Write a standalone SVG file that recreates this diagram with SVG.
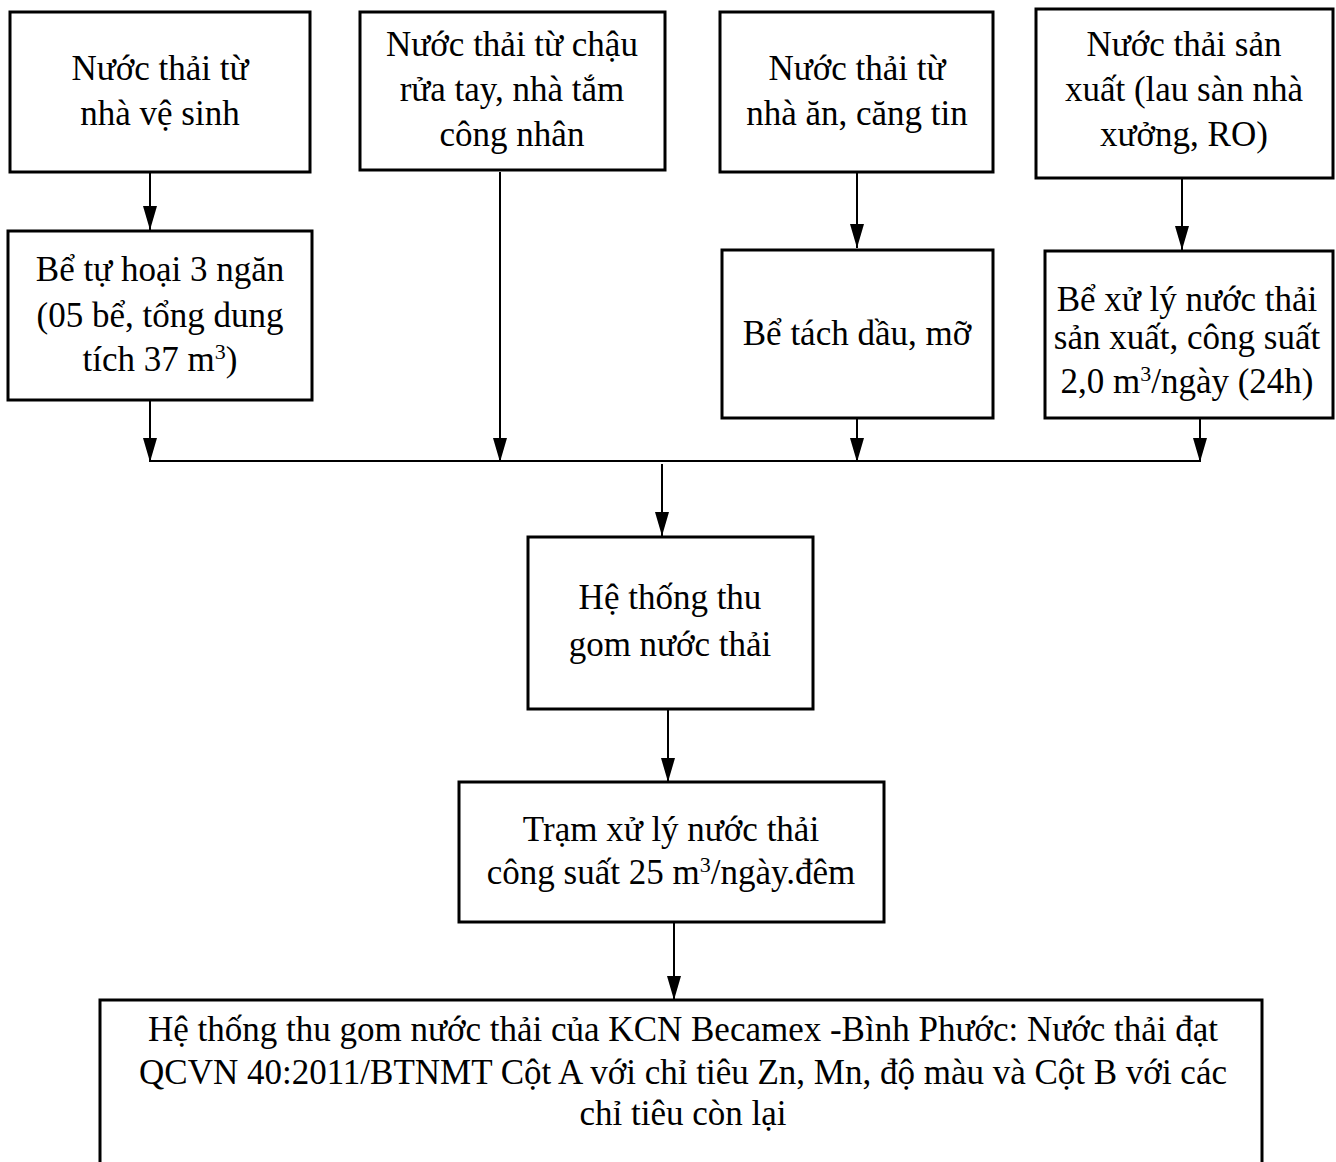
<svg xmlns="http://www.w3.org/2000/svg" width="1336" height="1162" viewBox="0 0 1336 1162">
<style>
.box{fill:#fff;stroke:#000;stroke-width:3}
.t{font-family:"Liberation Serif","Times New Roman",serif;font-size:35px;fill:#000;text-anchor:middle}
.c{stroke:#000;stroke-width:2;fill:none}
.sup{font-size:22px}
</style>
<defs>
<marker id="ah" viewBox="0 0 24 14" refX="24" refY="7" markerWidth="24" markerHeight="14" markerUnits="userSpaceOnUse" orient="auto">
<path d="M0,0 L24,7 L0,14 z" fill="#000"/>
</marker>
</defs>
<rect width="1336" height="1162" fill="#fff"/>
<g id="connectors">
<line class="c" x1="150" y1="172" x2="150" y2="230" marker-end="url(#ah)"/>
<line class="c" x1="500" y1="172" x2="500" y2="462" marker-end="url(#ah)"/>
<line class="c" x1="857" y1="172" x2="857" y2="248" marker-end="url(#ah)"/>
<line class="c" x1="1182" y1="178" x2="1182" y2="250" marker-end="url(#ah)"/>
<line class="c" x1="150" y1="400" x2="150" y2="462" marker-end="url(#ah)"/>
<line class="c" x1="857" y1="418" x2="857" y2="462" marker-end="url(#ah)"/>
<line class="c" x1="1200" y1="418" x2="1200" y2="462" marker-end="url(#ah)"/>
<line class="c" x1="150" y1="461" x2="1200" y2="461"/>
<line class="c" x1="662" y1="464" x2="662" y2="536" marker-end="url(#ah)"/>
<line class="c" x1="668" y1="709" x2="668" y2="782" marker-end="url(#ah)"/>
<line class="c" x1="674" y1="922" x2="674" y2="1000" marker-end="url(#ah)"/>
</g>
<g id="n1">
<rect class="box" x="10" y="12" width="300" height="160"/>
<text class="t" x="160" y="80">Nước thải từ</text>
<text class="t" x="160" y="125">nhà vệ sinh</text>
</g>
<g id="n2">
<rect class="box" x="360" y="12" width="305" height="158"/>
<text class="t" x="512" y="56">Nước thải từ chậu</text>
<text class="t" x="512" y="101">rửa tay, nhà tắm</text>
<text class="t" x="512" y="146">công nhân</text>
</g>
<g id="n3">
<rect class="box" x="720" y="12" width="273" height="160"/>
<text class="t" x="857" y="80">Nước thải từ</text>
<text class="t" x="857" y="125">nhà ăn, căng tin</text>
</g>
<g id="n4">
<rect class="box" x="1036" y="9" width="297" height="169"/>
<text class="t" x="1184" y="56">Nước thải sản</text>
<text class="t" x="1184" y="101">xuất (lau sàn nhà</text>
<text class="t" x="1184" y="146">xưởng, RO)</text>
</g>
<g id="n5">
<rect class="box" x="8" y="231" width="304" height="169"/>
<text class="t" x="160" y="281">Bể tự hoại 3 ngăn</text>
<text class="t" x="160" y="327">(05 bể, tổng dung</text>
<text class="t" x="160" y="371">tích 37 m<tspan class="sup" baseline-shift="super">3</tspan>)</text>
</g>
<g id="n6">
<rect class="box" x="722" y="250" width="271" height="168"/>
<text class="t" x="857" y="345">Bể tách dầu, mỡ</text>
</g>
<g id="n7">
<rect class="box" x="1045" y="251" width="288" height="167"/>
<text class="t" x="1187" y="311">Bể xử lý nước thải</text>
<text class="t" x="1187" y="349">sản xuất, công suất</text>
<text class="t" x="1187" y="393">2,0 m<tspan class="sup" baseline-shift="super">3</tspan>/ngày (24h)</text>
</g>
<g id="n8">
<rect class="box" x="528" y="537" width="285" height="172"/>
<text class="t" x="670" y="609">Hệ thống thu</text>
<text class="t" x="670" y="656">gom nước thải</text>
</g>
<g id="n9">
<rect class="box" x="459" y="782" width="425" height="140"/>
<text class="t" x="671" y="841">Trạm xử lý nước thải</text>
<text class="t" x="671" y="884">công suất 25 m<tspan class="sup" baseline-shift="super">3</tspan>/ngày.đêm</text>
</g>
<g id="n10">
<rect class="box" x="100" y="1000" width="1162" height="170"/>
<text class="t" x="683" y="1041">Hệ thống thu gom nước thải của KCN Becamex -Bình Phước: Nước thải đạt</text>
<text class="t" x="683" y="1084">QCVN 40:2011/BTNMT Cột A với chỉ tiêu Zn, Mn, độ màu và Cột B với các</text>
<text class="t" x="683" y="1125">chỉ tiêu còn lại</text>
</g>
</svg>
